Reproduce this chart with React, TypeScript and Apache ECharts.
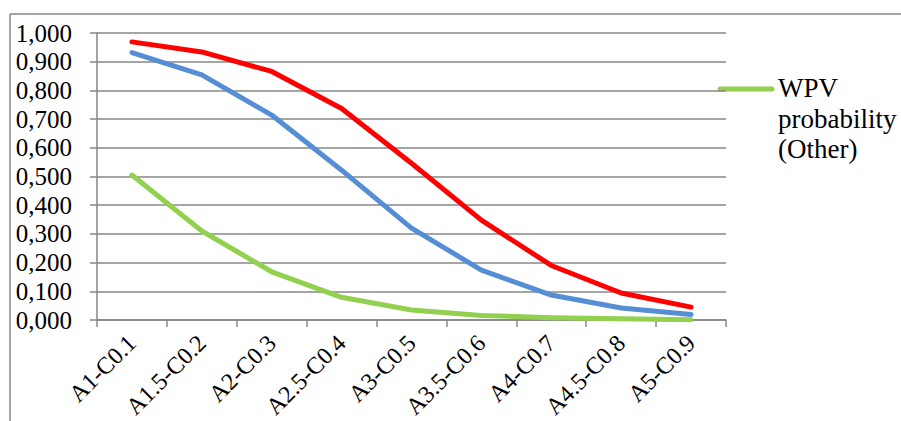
import React, { useEffect, useRef } from "react";
import * as echarts from "echarts";

const categories = [
  "A1-C0.1",
  "A1.5-C0.2",
  "A2-C0.3",
  "A2.5-C0.4",
  "A3-C0.5",
  "A3.5-C0.6",
  "A4-C0.7",
  "A4.5-C0.8",
  "A5-C0.9",
];
const redValues = [0.969, 0.934, 0.866, 0.737, 0.546, 0.348, 0.19, 0.094, 0.045];
const blueValues = [0.932, 0.854, 0.714, 0.522, 0.32, 0.174, 0.087, 0.042, 0.019];
const greenValues = [0.505, 0.31, 0.168, 0.079, 0.035, 0.016, 0.008, 0.004, 0.001];
const legendName = "WPV probability (Other)";
const legendLines = ["WPV", "probability", "(Other)"];

const FONT = "Liberation Serif";
const GRAY = "#878787";

export default function App() {
  const ref = useRef<HTMLDivElement>(null);
  useEffect(() => {
    if (!ref.current) return;
    const chart = echarts.init(ref.current, null, { renderer: "svg" });
    chart.setOption({
      animation: false,
      backgroundColor: "#ffffff",
      grid: { left: 97, right: 175, top: 33, bottom: 101, containLabel: false, outerBoundsMode: "none" },
      xAxis: {
        type: "category",
        data: categories,
        boundaryGap: true,
        axisLine: { show: true, lineStyle: { color: GRAY, width: 1.5 } },
        axisTick: { show: true, length: 7, lineStyle: { color: GRAY, width: 1.5 } },
        axisLabel: {
          interval: 0,
          rotate: 45,
          margin: 19,
          fontFamily: FONT,
          fontSize: 24,
          color: "#000",
        },
        splitLine: { show: false },
      },
      yAxis: {
        type: "value",
        min: 0,
        max: 1,
        interval: 0.1,
        axisLine: { show: true, lineStyle: { color: GRAY, width: 1.5 } },
        axisTick: { show: true, length: 7, lineStyle: { color: GRAY, width: 1.5 } },
        axisLabel: {
          margin: 25,
          fontFamily: FONT,
          fontSize: 25,
          color: "#000",
          formatter: (v: number) => v.toFixed(3).replace(".", ","),
        },
        splitLine: { show: true, lineStyle: { color: GRAY, width: 1.5 } },
      },
      series: [
        {
          name: "WPV probability (A)",
          type: "line",
          data: redValues,
          symbol: "none",
          lineStyle: { color: "#FF0000", width: 5, cap: "round", join: "round" },
          itemStyle: { color: "#FF0000" },
        },
        {
          name: "WPV probability (B)",
          type: "line",
          data: blueValues,
          symbol: "none",
          lineStyle: { color: "#558ED5", width: 5, cap: "round", join: "round" },
          itemStyle: { color: "#558ED5" },
        },
        {
          name: legendName,
          type: "line",
          data: greenValues,
          symbol: "none",
          lineStyle: { color: "#92D050", width: 5, cap: "round", join: "round" },
          itemStyle: { color: "#92D050" },
        },
      ],
      graphic: [
        {
          type: "line",
          shape: { x1: 10, y1: 14, x2: 901, y2: 14 },
          style: { stroke: GRAY, lineWidth: 1.5 },
        },
        {
          type: "line",
          shape: { x1: 10, y1: 14, x2: 10, y2: 421 },
          style: { stroke: GRAY, lineWidth: 1.5 },
        },
        {
          type: "line",
          shape: { x1: 720, y1: 89, x2: 772, y2: 89 },
          style: { stroke: "#92D050", lineWidth: 5, lineCap: "round" },
        },
        {
          type: "text",
          x: 778,
          y: 73,
          style: {
            text: legendLines.join("\n"),
            fontFamily: FONT,
            fontSize: 27,
            lineHeight: 30.5,
            fill: "#000",
          },
        },
      ],
    });
    return () => chart.dispose();
  }, []);
  return (
    <div
      ref={ref}
      style={{ position: "fixed", left: 0, top: 0, width: 901, height: 421 }}
    />
  );
}
